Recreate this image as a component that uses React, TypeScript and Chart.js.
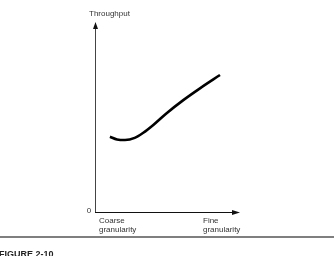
import React, { useEffect, useRef } from "react";
import { Chart, registerables } from "chart.js";

Chart.register(...registerables);

// Granularity position (0 = coarse, 100 = fine) vs relative throughput (0..100)
const granularity = [10.3, 15.2, 20.7, 27.4, 33.3, 40.2, 49.4, 60.9, 72.4, 86.2];
const throughput = [39.6, 38.2, 37.9, 39.0, 41.7, 45.8, 52.0, 58.9, 65.1, 72.1];

const xTickLabels = [["Coarse", "granularity"], ["Fine", "granularity"]];
const yTickLabel = "0";
const yAxisTitle = "Throughput";
const figureCaption = "FIGURE 2-10";

const FONT = '"Liberation Sans", Arial, Helvetica, sans-serif';

const decorPlugin = {
  id: "decor",
  afterDraw(chart: any) {
    const { ctx, chartArea } = chart;
    const xs = chart.scales.x;
    const ys = chart.scales.y;
    const x0 = xs.getPixelForValue(0);
    const x1 = xs.getPixelForValue(100);
    const y0 = ys.getPixelForValue(0);
    const y1 = ys.getPixelForValue(100);
    ctx.save();
    // y axis
    ctx.strokeStyle = "#444";
    ctx.lineWidth = 1;
    ctx.beginPath();
    ctx.moveTo(x0 + 0.5, y0);
    ctx.lineTo(x0 + 0.5, y1 + 4);
    ctx.stroke();
    ctx.fillStyle = "#111";
    ctx.beginPath();
    ctx.moveTo(x0 + 0.5, y1);
    ctx.lineTo(x0 - 2, y1 + 7);
    ctx.lineTo(x0 + 3, y1 + 7);
    ctx.closePath();
    ctx.fill();
    // x axis
    ctx.strokeStyle = "#111";
    ctx.beginPath();
    ctx.moveTo(x0, y0 + 0.5);
    ctx.lineTo(x1 - 4, y0 + 0.5);
    ctx.stroke();
    ctx.beginPath();
    ctx.moveTo(x1, y0 + 0.5);
    ctx.lineTo(x1 - 8, y0 - 2);
    ctx.lineTo(x1 - 8, y0 + 3);
    ctx.closePath();
    ctx.fill();
    // labels
    ctx.fillStyle = "#333";
    ctx.font = "8px " + FONT;
    ctx.textBaseline = "middle";
    ctx.textAlign = "left";
    ctx.fillText(yAxisTitle, x0 - 6, y1 - 8);
    ctx.textAlign = "center";
    ctx.fillText(yTickLabel, x0 - 6, y0 - 1);
    ctx.textAlign = "left";
    const lp = [x0 + 4, x1 - 37];
    xTickLabels.forEach((lines, i) => {
      lines.forEach((t, j) => {
        ctx.fillText(t, lp[i], y0 + 9 + j * 9);
      });
    });
    // bottom rule & caption
    ctx.strokeStyle = "#555";
    ctx.lineWidth = 1.5;
    ctx.beginPath();
    ctx.moveTo(0, 237);
    ctx.lineTo(334, 237);
    ctx.stroke();
    ctx.fillStyle = "#222";
    ctx.font = "bold 9px " + FONT;
    ctx.textBaseline = "alphabetic";
    ctx.fillText(figureCaption, -1, 257);
    ctx.restore();
  },
};

export default function App() {
  const ref = useRef<HTMLCanvasElement>(null);
  useEffect(() => {
    document.body.style.margin = "0";
    const chart = new Chart(ref.current!, {
      type: "line",
      data: {
        datasets: [
          {
            data: granularity.map((g, i) => ({ x: g, y: throughput[i] })),
            borderColor: "#000",
            borderWidth: 2.6,
            pointRadius: 0,
            tension: 0.4,
            cubicInterpolationMode: "monotone",
            fill: false,
          },
        ],
      },
      options: {
        animation: false,
        responsive: false,
        layout: { padding: { left: 95, right: 94, top: 22, bottom: 44 } },
        plugins: { legend: { display: false }, tooltip: { enabled: false } },
        scales: {
          x: { type: "linear", min: 0, max: 100, display: false },
          y: { type: "linear", min: 0, max: 100, display: false },
        },
      },
      plugins: [decorPlugin],
    });
    return () => chart.destroy();
  }, []);
  return (
    <div style={{ position: "fixed", left: 0, top: 0, width: 334, height: 256, background: "#fff" }}>
      <canvas ref={ref} width={334} height={256} />
    </div>
  );
}
